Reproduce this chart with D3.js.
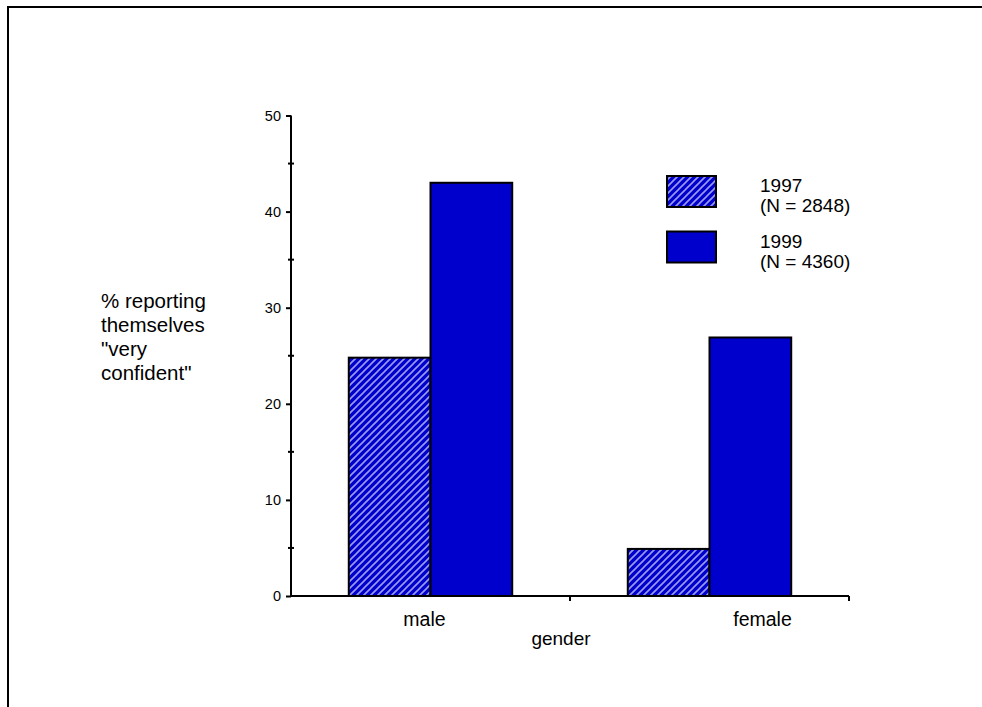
<!DOCTYPE html>
<html>
<head>
<meta charset="utf-8">
<script src="https://cdn.jsdelivr.net/npm/d3@7"></script>
<style>
  html, body { margin: 0; padding: 0; background: #fff; }
  svg { display: block; font-family: "Liberation Sans", Arial, sans-serif; }
</style>
</head>
<body>
<svg id="chart" width="982" height="707"></svg>
<script>
// ---- data ----
const categories = ["male", "female"];
const seriesNames = ["1997", "1999"];
const seriesN = ["(N = 2848)", "(N = 4360)"];
const values1997 = [24.8, 4.9];
const values1999 = [43.0, 26.9];
const yTicks = [0, 10, 20, 30, 40, 50];
const yMinorTicks = [5, 15, 25, 35, 45];
const yLabelLines = ["% reporting", "themselves", "\"very", "confident\""];
const xTitle = "gender";

// ---- layout ----
const svg = d3.select("#chart");
const X0 = 291, X1 = 849, Y0 = 596, Y1 = 115.5;
const labelOffsets = [-6, 53];

const defs = svg.append("defs");
const pat = defs.append("pattern")
  .attr("id", "hatch").attr("patternUnits", "userSpaceOnUse")
  .attr("width", 7).attr("height", 7);
pat.append("rect").attr("width", 7).attr("height", 7).attr("fill", "#0000cc");
pat.append("path").attr("d", "M-1,8 L8,-1 M-1,1 L1,-1 M6,8 L8,6")
  .attr("stroke", "#9a9af0").attr("stroke-width", 1.6);

// frame
svg.append("path").attr("d", "M8,707 L8,7 L982,7")
  .attr("fill", "none").attr("stroke", "#000").attr("stroke-width", 2);

const x = d3.scaleBand().domain(categories).range([X0, X1]).paddingInner(0).paddingOuter(0);
const sub = d3.scaleBand().domain(seriesNames).range([0, x.bandwidth()]).paddingOuter(0.707).paddingInner(0);
const y = d3.scaleLinear().domain([0, 50]).range([Y0, Y1]);

const seriesData = [values1997, values1999];
const fills = ["url(#hatch)", "#0000cc"];

// bars
seriesNames.forEach((s, si) => {
  svg.append("g").selectAll("rect")
    .data(categories.map((c, i) => ({c, v: seriesData[si][i]})))
    .join("rect")
    .attr("x", d => x(d.c) + sub(s))
    .attr("width", sub.bandwidth())
    .attr("y", d => y(d.v))
    .attr("height", d => y(0) - y(d.v))
    .attr("fill", fills[si])
    .attr("stroke", "#000").attr("stroke-width", 2);
});

// y axis
const yAxis = d3.axisLeft(y).tickValues(yTicks).tickSize(5).tickPadding(5).tickFormat(d3.format("d"));
const gy = svg.append("g").attr("transform", `translate(${X0},0)`).call(yAxis);
gy.select(".domain").attr("stroke-width", 2).attr("d", `M0,${Y1}V${Y0}`);
gy.selectAll(".tick line").attr("stroke-width", 2);
gy.selectAll("text").attr("font-size", 14.5).attr("fill", "#000").attr("font-family", "Liberation Sans, Arial, sans-serif");
svg.append("g").selectAll("line").data(yMinorTicks).join("line")
  .attr("x1", X0 - 3).attr("x2", X0 + 3)
  .attr("y1", d => y(d)).attr("y2", d => y(d))
  .attr("stroke", "#000").attr("stroke-width", 2);

// x axis
const gx = svg.append("g").attr("transform", `translate(0,${Y0})`);
gx.append("line").attr("x1", X0).attr("x2", X1).attr("stroke", "#000").attr("stroke-width", 2);
gx.selectAll("line.t").data(categories).join("line").attr("class", "t")
  .attr("x1", d => x(d) + x.bandwidth()).attr("x2", d => x(d) + x.bandwidth())
  .attr("y1", 0).attr("y2", 5).attr("stroke", "#000").attr("stroke-width", 2);
gx.selectAll("text").data(categories).join("text")
  .attr("x", (d, i) => x(d) + x.bandwidth() / 2 + labelOffsets[i])
  .attr("y", 30).attr("text-anchor", "middle").attr("font-size", 19.5).text(d => d);

svg.append("text").attr("x", 561).attr("y", 645).attr("text-anchor", "middle")
  .attr("font-size", 19).text(xTitle);

// y label
svg.append("text").attr("x", 101).attr("y", 308).attr("font-size", 20.5)
  .selectAll("tspan").data(yLabelLines).join("tspan")
  .attr("x", 101).attr("dy", (d, i) => i === 0 ? 0 : 24).text(d => d);

// legend
const lg = svg.append("g");
seriesNames.forEach((s, i) => {
  const top = 176 + i * 55.5;
  lg.append("rect").attr("x", 667).attr("y", top).attr("width", 49).attr("height", 31)
    .attr("fill", fills[i]).attr("stroke", "#000").attr("stroke-width", 2);
  lg.append("text").attr("x", 760).attr("y", top + 16).attr("font-size", 19).text(s);
  lg.append("text").attr("x", 760).attr("y", top + 36).attr("font-size", 19).text(seriesN[i]);
});
</script>
</body>
</html>
